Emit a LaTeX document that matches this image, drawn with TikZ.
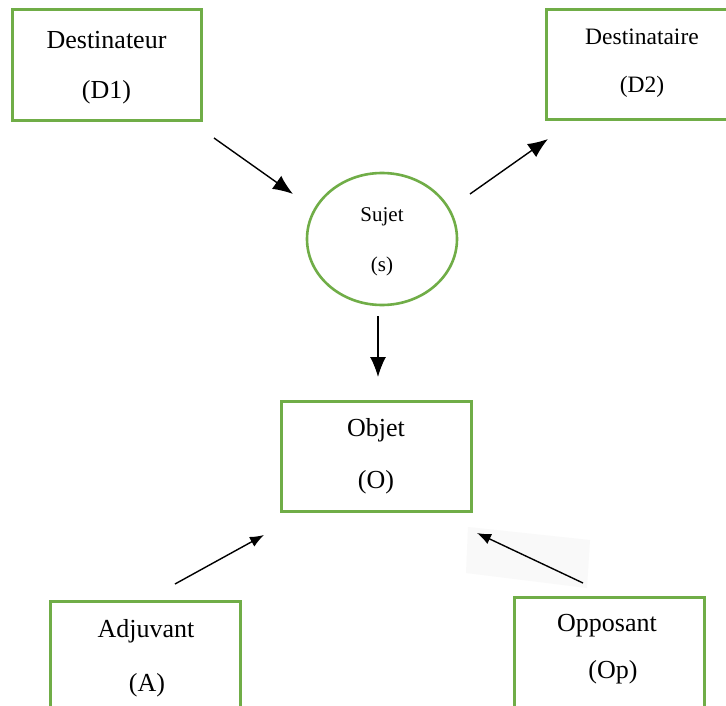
\documentclass[tikz,border=0pt]{standalone}
\usepackage{fontspec}
\setmainfont{Liberation Serif}
\usetikzlibrary{arrows.meta,shapes.geometric}
\definecolor{boxgreen}{RGB}{112,173,71}
\tikzset{
  gbox/.style={draw=boxgreen, line width=3pt, fill=white, inner sep=0pt},
  lbl/.style={inner sep=0pt, font=\fontsize{26}{30}\selectfont},
  arr/.style={line width=1.4pt, -{Latex[length=20pt,width=16pt]}},
  sarr/.style={line width=1.4pt, -{Latex[length=14pt,width=11pt]}}
}
\begin{document}
\begin{tikzpicture}[x=1pt,y=-1pt]
\useasboundingbox[fill=white] (0,0) rectangle (726,706);
% faint pasted background
\fill[black!2.5] (468,527) -- (590,540) -- (587,588) -- (466,573) -- cycle;
% boxes
\node[gbox, minimum width=189pt, minimum height=111pt] (D1) at (106.5,65.5) {};
\node[gbox, minimum width=190pt, minimum height=110pt] (D2) at (641,65) {};
\node[draw=boxgreen, line width=2.6pt, ellipse, minimum width=150pt, minimum height=132pt, inner sep=0pt] (S) at (382,239) {};
\node[gbox, minimum width=190pt, minimum height=110pt] (O) at (376,456) {};
\node[gbox, minimum width=190pt, minimum height=130pt] (A) at (145,666) {};
\node[gbox, minimum width=190pt, minimum height=130pt] (Op) at (609,662) {};
% labels
\node[lbl] (t1) at (106.5,40) {Destinateur};
\node[lbl] (t2) at (106.5,92) {(D1)};
\node[lbl, font=\fontsize{23.5}{28}\selectfont] (t3) at (642,37) {Destinataire};
\node[lbl, font=\fontsize{23.5}{28}\selectfont] (t4) at (642,87) {(D2)};
\node[lbl, font=\fontsize{21}{25}\selectfont] (t5) at (382,217) {Sujet};
\node[lbl, font=\fontsize{21}{25}\selectfont] (t6) at (382,266) {(s)};
\node[lbl] (t7) at (376,430) {Objet};
\node[lbl] (t8) at (376,482) {(O)};
\node[lbl] (t9) at (146,631) {Adjuvant};
\node[lbl] (t10) at (147,685) {(A)};
\node[lbl] (t11) at (607,626) {Opposant};
\node[lbl] (t12) at (613,672) {(Op)};
% arrow ends
\coordinate (a1s) at (214,138); \coordinate (a1e) at (293,194);
\coordinate (a2s) at (470,194); \coordinate (a2e) at (548,139);
\coordinate (a3s) at (378,316); \coordinate (a3e) at (378,377);
\coordinate (a4s) at (175,584); \coordinate (a4e) at (264,535);
\coordinate (a5s) at (583,583); \coordinate (a5e) at (477,533);
\draw[arr] (a1s) -- (a1e);
\draw[arr] (a2s) -- (a2e);
\draw[arr] (a3s) -- (a3e);
\draw[sarr] (a4s) -- (a4e);
\draw[sarr] (a5s) -- (a5e);
\end{tikzpicture}
\end{document}
